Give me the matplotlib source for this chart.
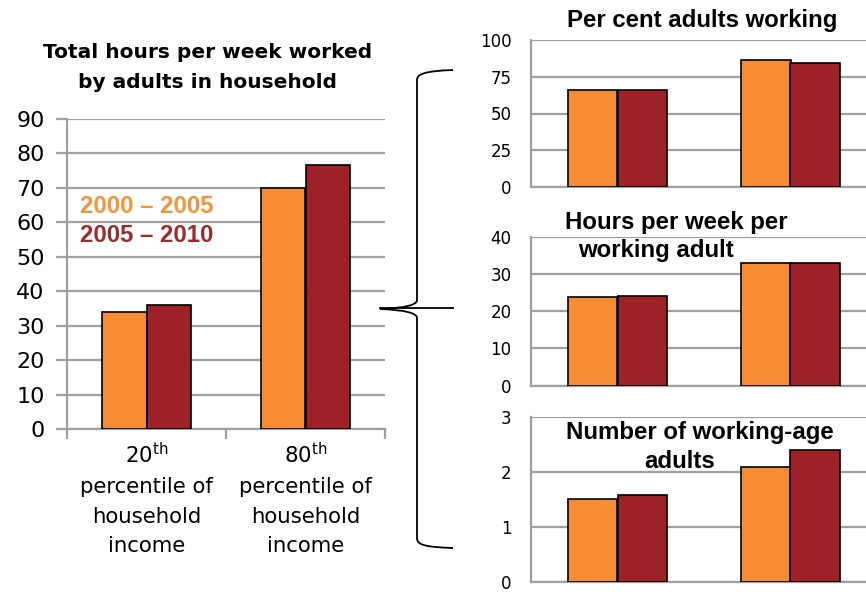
import matplotlib.pyplot as plt
from matplotlib.lines import Line2D
from matplotlib.path import Path
from matplotlib.patches import PathPatch

plt.rcParams['font.family'] = ['DejaVu Sans']
plt.rcParams['mathtext.fontset'] = 'dejavusans'

# data
categories = ['20$^{\\mathrm{th}}$\npercentile of\nhousehold\nincome',
              '80$^{\\mathrm{th}}$\npercentile of\nhousehold\nincome']
series = ['2000 \u2013 2005', '2005 \u2013 2010']
total_hours = [[34.1, 70.0], [36.0, 76.6]]
pct_working = [[66.0, 86.4], [66.0, 84.6]]
hours_per_worker = [[23.9, 32.9], [24.2, 32.9]]
n_adults = [[1.52, 2.09], [1.58, 2.41]]

bar_colors = ['#F58C33', '#9E2128']
text_colors = ['#F7913A', '#9E2A2B']
grid_col = '#A0A0A0'

W, H = 866, 592
fig = plt.figure(figsize=(W / 100, H / 100), dpi=100)


def add_ax(left, right, top, bottom):
    return fig.add_axes([left / W, 1 - bottom / H, (right - left) / W, (bottom - top) / H])


def style(ax, ymax, step, fs):
    ax.set_ylim(0, ymax)
    ax.set_xlim(0, 2)
    ax.set_yticks([i * step for i in range(int(round(ymax / step)) + 1)])
    ax.yaxis.grid(True, color=grid_col, linewidth=1.6)
    ax.set_axisbelow(True)
    for s in ['top', 'right']:
        ax.spines[s].set_visible(False)
    for s in ['left', 'bottom']:
        ax.spines[s].set_color(grid_col)
        ax.spines[s].set_linewidth(1.6)
    ax.tick_params(axis='y', length=8, width=1.6, color=grid_col, labelsize=fs, pad=8)


def bars(ax, vals, width):
    for i, v in enumerate(vals):
        xs = [k + 0.5 + (i - 0.5) * width for k in range(len(v))]
        ax.bar(xs, v, width=width, color=bar_colors[i], edgecolor='black', linewidth=1.2, zorder=3)


# left main chart
ax = add_ax(67, 385, 119, 429)
style(ax, 90, 10, 16)
bars(ax, total_hours, 0.28)
ax.set_xticks([0, 1, 2])
ax.set_xticklabels([])
ax.tick_params(axis='x', length=7, width=1.6, color=grid_col)
ax.set_xticks([0.5, 1.5], minor=True)
ax.set_xticklabels(categories, minor=True, fontsize=15.3, linespacing=1.62)
ax.tick_params(axis='x', which='minor', length=0, pad=9)
for i, s in enumerate(series):
    ax.text(0.041, 0.719 - i * 0.094, s, transform=ax.transAxes, color=text_colors[i],
            fontsize=17.2, fontweight='bold', va='center', family='Liberation Sans')
fig.text(208 / W, 1 - 53 / H, 'Total hours per week worked', ha='center', va='center',
         fontsize=14.5, fontweight='bold')
fig.text(208 / W, 1 - 82 / H, 'by adults in household', ha='center', va='center',
         fontsize=14.5, fontweight='bold')

# right panels
panels = [
    (pct_working, 100, 25, 40, 187),
    (hours_per_worker, 40, 10, 236.7, 385.7),
    (n_adults, 3, 1, 417.3, 582),
]
for vals, ymax, step, top, bottom in panels:
    a = add_ax(531, 877, top, bottom)
    style(a, ymax, step, 12)
    bars(a, vals, 0.285)
    a.set_xticks([])
    a.tick_params(axis='y', length=0, pad=14)

titles = [
    ('Per cent adults working', 702, 20),
    ('Hours per week per', 676, 222),
    ('working adult', 656, 250),
    ('Number of working-age', 700, 432),
    ('adults', 680, 461),
]
for t, x, y in titles:
    fig.text(x / W, 1 - y / H, t, ha='center', va='center', fontsize=17.3, fontweight='bold',
             family='Liberation Sans')

# curly brace in pixel coordinates
def px(x, y):
    return (x / W, 1 - y / H)

verts = [px(453, 70), px(425, 71), px(417, 74), px(417, 80),
         px(417, 300), px(417, 305), px(405, 308), px(380, 309),
         px(405, 310), px(417, 313), px(417, 318),
         px(417, 538), px(417, 545), px(425, 547), px(453, 548)]
codes = [Path.MOVETO, Path.CURVE4, Path.CURVE4, Path.CURVE4,
         Path.LINETO, Path.CURVE4, Path.CURVE4, Path.CURVE4,
         Path.CURVE4, Path.CURVE4, Path.CURVE4,
         Path.LINETO, Path.CURVE4, Path.CURVE4, Path.CURVE4]
fig.patches.append(PathPatch(Path(verts, codes), transform=fig.transFigure, fill=False,
                             edgecolor='black', linewidth=1.3))
fig.lines.append(Line2D([380 / W, 453 / W], [1 - 308 / H, 1 - 308 / H], transform=fig.transFigure,
                        color='black', linewidth=1.3))

fig.savefig('out.png', dpi=100)
